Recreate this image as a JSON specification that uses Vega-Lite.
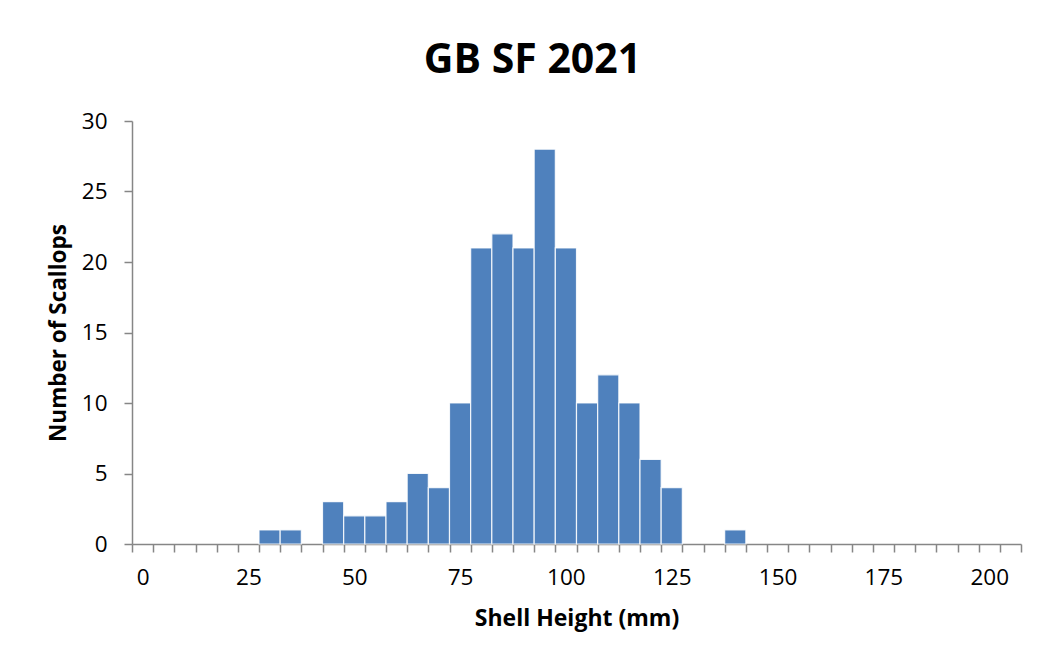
{
  "$schema": "https://vega.github.io/schema/vega-lite/v6.json",
  "width": 889,
  "height": 423,
  "autosize": "none",
  "padding": {"left": 132, "top": 121, "right": 27, "bottom": 116},
  "background": "white",
  "title": {
    "text": "GB SF 2021",
    "font": "Open Sans",
    "fontSize": 41,
    "fontWeight": "bold",
    "color": "#000000",
    "anchor": "middle",
    "frame": "group",
    "baseline": "alphabetic",
    "dx": -44,
    "dy": 40,
    "offset": 36
  },
  "data": {
    "values": [
      {"bin": 30, "count": 1},
      {"bin": 35, "count": 1},
      {"bin": 45, "count": 3},
      {"bin": 50, "count": 2},
      {"bin": 55, "count": 2},
      {"bin": 60, "count": 3},
      {"bin": 65, "count": 5},
      {"bin": 70, "count": 4},
      {"bin": 75, "count": 10},
      {"bin": 80, "count": 21},
      {"bin": 85, "count": 22},
      {"bin": 90, "count": 21},
      {"bin": 95, "count": 28},
      {"bin": 100, "count": 21},
      {"bin": 105, "count": 10},
      {"bin": 110, "count": 12},
      {"bin": 115, "count": 10},
      {"bin": 120, "count": 6},
      {"bin": 125, "count": 4},
      {"bin": 140, "count": 1}
    ]
  },
  "mark": {"type": "bar", "color": "#4F81BD", "stroke": "#FFFFFF", "strokeWidth": 1.2, "strokeOpacity": 0.85},
  "encoding": {
    "x": {
      "field": "bin",
      "type": "ordinal",
      "scale": {
        "domain": [0,5,10,15,20,25,30,35,40,45,50,55,60,65,70,75,80,85,90,95,100,105,110,115,120,125,130,135,140,145,150,155,160,165,170,175,180,185,190,195,200,205],
        "paddingInner": 0,
        "paddingOuter": 0
      },
      "axis": {
        "title": "Shell Height (mm)",
        "titleFont": "Open Sans",
        "titleFontSize": 23,
        "titleFontWeight": "bold",
        "titleColor": "#000000",
        "titlePadding": 19,
        "labelAngle": 0,
        "labelFont": "Open Sans",
        "labelFontSize": 22.5,
        "labelColor": "#000000",
        "labelPadding": 14,
        "labelExpr": "datum.value % 25 === 0 ? datum.label : ''",
        "tickBand": "extent",
        "tickSize": 8,
        "tickColor": "#868686",
        "tickWidth": 1.5,
        "domainColor": "#868686",
        "domainWidth": 1.5,
        "grid": false
      }
    },
    "y": {
      "field": "count",
      "type": "quantitative",
      "scale": {"domain": [0, 30], "nice": false},
      "axis": {
        "title": "Number of Scallops",
        "titleFont": "Open Sans",
        "titleFontSize": 22.5,
        "titleFontWeight": "bold",
        "titleColor": "#000000",
        "titlePadding": 11,
        "values": [0, 5, 10, 15, 20, 25, 30],
        "labelFont": "Open Sans",
        "labelFontSize": 22.5,
        "labelColor": "#000000",
        "labelPadding": 17,
        "tickSize": 8,
        "tickColor": "#868686",
        "tickWidth": 1.5,
        "domainColor": "#868686",
        "domainWidth": 1.5,
        "grid": false
      }
    }
  },
  "config": {"view": {"stroke": null}}
}
